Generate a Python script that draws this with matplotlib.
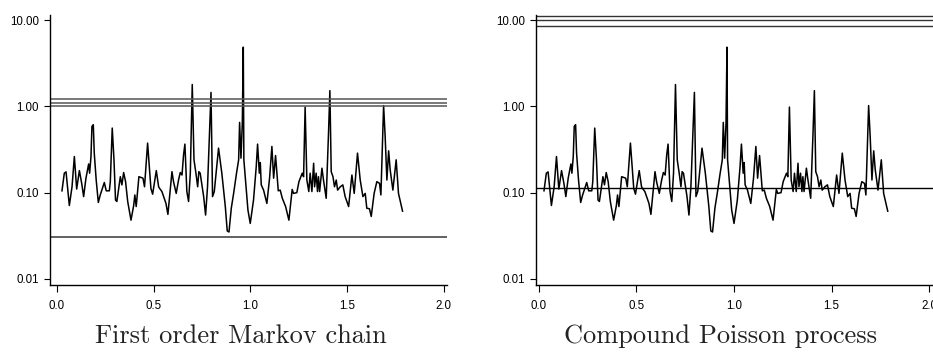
import numpy as np
import matplotlib
matplotlib.use('Agg')
import matplotlib.pyplot as plt
from matplotlib.ticker import FixedLocator

# series (same in both panels)
t = [0.026, 0.038, 0.047, 0.064, 0.078, 0.090, 0.102, 0.116, 0.128, 0.138,
     0.150, 0.164, 0.169, 0.176, 0.181, 0.188, 0.193, 0.203, 0.214, 0.224,
     0.245, 0.255, 0.271, 0.276, 0.286, 0.295, 0.303, 0.310, 0.328, 0.336,
     0.345, 0.355, 0.366, 0.383, 0.397, 0.403, 0.410, 0.424, 0.445, 0.453,
     0.469, 0.486, 0.495, 0.514, 0.526, 0.531, 0.543, 0.564, 0.574, 0.595,
     0.603, 0.617, 0.629, 0.638, 0.647, 0.655, 0.662, 0.672, 0.681, 0.690,
     0.700, 0.709, 0.719, 0.728, 0.734, 0.741, 0.759, 0.769, 0.779, 0.797,
     0.805, 0.814, 0.836, 0.853, 0.871, 0.881, 0.890, 0.902, 0.914, 0.924,
     0.929, 0.940, 0.945, 0.952, 0.959, 0.964, 0.967, 0.978, 0.988, 1.000,
     1.017, 1.031, 1.038, 1.047, 1.052, 1.057, 1.069, 1.086, 1.100, 1.112,
     1.121, 1.131, 1.145, 1.155, 1.166, 1.183, 1.200, 1.217, 1.224, 1.241,
     1.252, 1.269, 1.276, 1.284, 1.293, 1.303, 1.310, 1.319, 1.328, 1.333,
     1.341, 1.348, 1.353, 1.359, 1.371, 1.379, 1.393, 1.405, 1.412, 1.419,
     1.428, 1.436, 1.445, 1.452, 1.466, 1.479, 1.491, 1.509, 1.526, 1.538,
     1.555, 1.569, 1.583, 1.595, 1.603, 1.617, 1.626, 1.641, 1.655, 1.669,
     1.676, 1.690, 1.698, 1.707, 1.716, 1.724, 1.738, 1.755, 1.767, 1.788]
vals = [0.105, 0.168, 0.174, 0.071, 0.117, 0.262, 0.110, 0.180, 0.128, 0.090,
        0.147, 0.215, 0.168, 0.262, 0.585, 0.612, 0.287, 0.140, 0.077, 0.094,
        0.131, 0.105, 0.105, 0.134, 0.560, 0.240, 0.082, 0.079, 0.153, 0.123,
        0.171, 0.134, 0.079, 0.048, 0.071, 0.094, 0.069, 0.153, 0.147, 0.117,
        0.375, 0.112, 0.096, 0.180, 0.117, 0.112, 0.103, 0.075, 0.056, 0.175,
        0.134, 0.098, 0.140, 0.171, 0.160, 0.274, 0.365, 0.103, 0.079, 0.168,
        1.79, 0.240, 0.168, 0.117, 0.175, 0.168, 0.090, 0.055, 0.117, 1.45,
        0.090, 0.103, 0.328, 0.168, 0.069, 0.036, 0.035, 0.066, 0.098, 0.140,
        0.168, 0.240, 0.651, 0.251, 0.640, 4.85, 0.240, 0.117, 0.063, 0.044,
        0.082, 0.200, 0.365, 0.168, 0.223, 0.123, 0.107, 0.075, 0.147, 0.343,
        0.147, 0.269, 0.105, 0.107, 0.086, 0.069, 0.048, 0.109, 0.098, 0.100,
        0.134, 0.168, 0.153, 0.98, 0.140, 0.103, 0.168, 0.103, 0.219, 0.117,
        0.168, 0.103, 0.153, 0.103, 0.192, 0.140, 0.086, 0.490, 1.52, 0.175,
        0.153, 0.117, 0.140, 0.107, 0.117, 0.123, 0.090, 0.069, 0.160, 0.098,
        0.287, 0.140, 0.090, 0.098, 0.066, 0.065, 0.053, 0.098, 0.134, 0.128,
        0.094, 1.02, 0.448, 0.140, 0.305, 0.184, 0.107, 0.240, 0.098, 0.061]

# horizontal reference levels
markov_upper = [1.0, 1.09, 1.22]
markov_lower = 0.031
poisson_upper = [8.6, 10.0, 11.2]
poisson_lower = 0.113

yticks = [0.01, 0.1, 1, 10]
ytick_labels = ['0.01', '0.10', '1.00', '10.00']
xticks = [0.0, 0.5, 1.0, 1.5, 2.0]
xtick_labels = ['0.0', '0.5', '1.0', '1.5', '2.0']

fig = plt.figure(figsize=(9.33, 3.54), dpi=100)
ax1 = fig.add_axes([50/933, 69/354, 397/933, 270/354])
ax2 = fig.add_axes([536/933, 69/354, 397/933, 270/354])

tickfont = {'family': 'Liberation Sans', 'size': 8.3}

for ax in (ax1, ax2):
    ax.set_yscale('log')
    ax.plot(t, vals, color='black', linewidth=1.1)
    ax.set_ylim(10**-2.07, 10**1.058)
    ax.spines['top'].set_visible(False)
    ax.spines['right'].set_visible(False)
    ax.spines['left'].set_linewidth(1.0)
    ax.spines['bottom'].set_linewidth(1.0)
    ax.yaxis.set_major_locator(FixedLocator(yticks))
    ax.yaxis.set_minor_locator(FixedLocator([]))
    ax.set_yticks(yticks)
    ax.set_yticklabels(ytick_labels, fontdict=tickfont)
    ax.set_xticks(xticks)
    ax.set_xticklabels(xtick_labels, fontdict=tickfont)
    ax.tick_params(axis='y', direction='out', length=4, width=0.8, pad=4)
    ax.tick_params(axis='x', direction='out', length=5, width=0.8, pad=6)

ax1.set_xlim(-0.036, 2.018)
ax2.set_xlim(-0.015, 2.02)

for lvl in markov_upper:
    ax1.axhline(lvl, color='#555555', linewidth=1.1)
ax1.axhline(markov_lower, color='#555555', linewidth=1.3)

for lvl in poisson_upper:
    ax2.axhline(lvl, color='#333333', linewidth=1.0)
ax2.axhline(poisson_lower, color='black', linewidth=1.0)

fig.text(241/933, 1 - 343/354, 'First order Markov chain', family='cmr10',
         fontsize=19, ha='center', va='baseline', color='#222222')
fig.text(720/933, 1 - 343/354, 'Compound Poisson process', family='cmr10',
         fontsize=19, ha='center', va='baseline', color='#222222')

fig.savefig('out.png', dpi=100)
